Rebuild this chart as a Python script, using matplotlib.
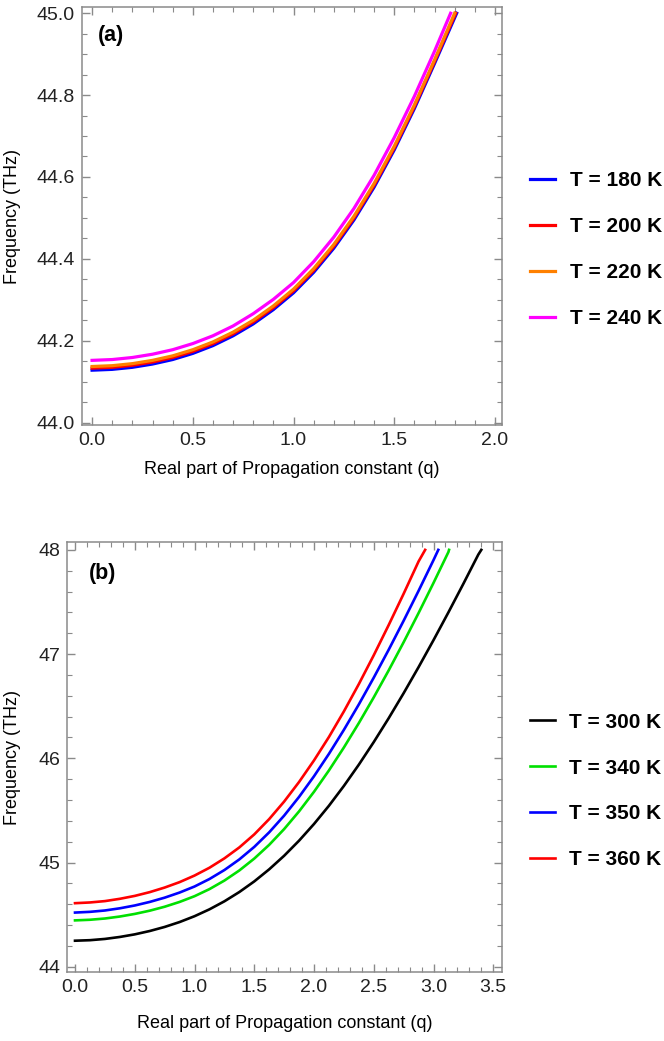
import matplotlib
matplotlib.use('Agg')
import matplotlib.pyplot as plt
from matplotlib.ticker import MultipleLocator, FormatStrFormatter

plt.rcParams['font.family'] = ['Liberation Sans', 'DejaVu Sans']

#==========================================================
# Dispersion data, panel (a): 180 - 240 K
#==========================================================
q_a = [0.0, 0.1, 0.2, 0.3, 0.4, 0.5, 0.6, 0.7, 0.8, 0.9,
       1.0, 1.1, 1.2, 1.3, 1.4, 1.5, 1.6, 1.7]

f_180 = [44.128, 44.130, 44.135, 44.143, 44.154, 44.169, 44.188, 44.212, 44.241,
         44.276, 44.317, 44.367, 44.426, 44.495, 44.575, 44.666, 44.767, 44.877, 45.0]
f_200 = [44.133, 44.135, 44.140, 44.148, 44.159, 44.174, 44.193, 44.217, 44.246,
         44.281, 44.322, 44.372, 44.431, 44.500, 44.580, 44.671, 44.772, 44.882, 45.0]
f_220 = [44.137, 44.139, 44.144, 44.152, 44.163, 44.178, 44.197, 44.221, 44.250,
         44.285, 44.326, 44.376, 44.435, 44.504, 44.584, 44.675, 44.776, 44.886, 45.0]
f_240 = [44.152, 44.154, 44.159, 44.167, 44.178, 44.193, 44.212, 44.236, 44.266,
         44.301, 44.342, 44.393, 44.453, 44.523, 44.604, 44.696, 44.797, 44.907, 45.0]
# q where each curve leaves the top of the frame
q_top_a = [1.81, 1.805, 1.80, 1.78]

#==========================================================
# Dispersion data, panel (b): 300 - 360 K
#==========================================================
q_b = [0.0, 0.125, 0.25, 0.375, 0.5, 0.625, 0.75, 0.875, 1.0, 1.125, 1.25,
       1.375, 1.5, 1.625, 1.75, 1.875, 2.0, 2.125, 2.25, 2.375, 2.5, 2.625,
       2.75, 2.875, 3.0, 3.125, 3.25, 3.375]

f_300 = [44.25, 44.255, 44.267, 44.286, 44.311, 44.343, 44.382, 44.429, 44.485,
         44.551, 44.628, 44.717, 44.819, 44.935, 45.065, 45.21, 45.37, 45.545,
         45.735, 45.939, 46.156, 46.385, 46.625, 46.875, 47.134, 47.401, 47.675,
         47.955, 48.0]
f_340 = [44.445, 44.451, 44.463, 44.482, 44.507, 44.538, 44.576, 44.622, 44.677,
         44.745, 44.827, 44.924, 45.038, 45.17, 45.321, 45.491, 45.679, 45.884,
         46.104, 46.338, 46.585, 46.844, 47.114, 47.394, 47.683, 47.98, 48.0]
f_350 = [44.52, 44.527, 44.54, 44.561, 44.588, 44.622, 44.663, 44.712, 44.77,
         44.842, 44.928, 45.03, 45.15, 45.29, 45.45, 45.63, 45.828, 46.043,
         46.273, 46.517, 46.774, 47.042, 47.32, 47.607, 47.902, 48.0]
f_360 = [44.61, 44.617, 44.63, 44.652, 44.68, 44.716, 44.76, 44.812, 44.875,
         44.95, 45.04, 45.145, 45.27, 45.417, 45.585, 45.773, 45.98, 46.205,
         46.45, 46.712, 46.989, 47.279, 47.579, 47.889, 48.0]
q_top_b = [3.40, 3.13, 3.04, 2.93]

labels_a = ['T = 180 K', 'T = 200 K', 'T = 220 K', 'T = 240 K']
labels_b = ['T = 300 K', 'T = 340 K', 'T = 350 K', 'T = 360 K']
colors_a = ['#0000ff', '#ff0000', '#ff8000', '#ff00ff']
colors_b = ['#000000', '#00e000', '#0000ff', '#ff0000']

#==========================================================
# plot
#==========================================================
fig = plt.figure(figsize=(6.64, 10.41), dpi=100)
ax1 = fig.add_axes([0.1235, 0.5917, 0.6325, 0.4015])
ax2 = fig.add_axes([0.1009, 0.0663, 0.6551, 0.4130])

def style_axis(ax):
    for sp in ax.spines.values():
        sp.set_color('#8a8a8a')
        sp.set_linewidth(1.1)
    ax.tick_params(which='both', direction='in', top=True, right=True,
                   color='#8a8a8a', labelsize=14, labelcolor='#222222', pad=5)
    ax.tick_params(which='major', length=6, width=1.0)
    ax.tick_params(which='minor', length=3.5, width=0.8)

# (a)
fa = [f_180, f_200, f_220, f_240]
for i in range(4):
    q = q_a[:len(fa[i]) - 1] + [q_top_a[i]]
    ax1.plot(q, fa[i], color=colors_a[i], lw=2.3, label=labels_a[i],
             solid_joinstyle='round')
ax1.set_xlim(-0.05, 2.035)
ax1.set_ylim(43.994, 45.015)
ax1.xaxis.set_major_locator(MultipleLocator(0.5))
ax1.xaxis.set_minor_locator(MultipleLocator(0.1))
ax1.yaxis.set_major_locator(MultipleLocator(0.2))
ax1.yaxis.set_minor_locator(MultipleLocator(0.05))
ax1.xaxis.set_major_formatter(FormatStrFormatter('%.1f'))
ax1.yaxis.set_major_formatter(FormatStrFormatter('%.1f'))
style_axis(ax1)
ax1.set_xlabel('Real part of Propagation constant (q)', fontsize=13)
ax1.set_ylabel('Frequency (THz)', fontsize=13)
ax1.xaxis.set_label_coords(0.5, -0.085)
ax1.yaxis.set_label_coords(-0.145, 0.5)
ax1.text(0.038, 0.933, '(a)', transform=ax1.transAxes, fontsize=15.5,
         fontweight='bold', va='center', ha='left')
ax1.legend(loc='center left', bbox_to_anchor=(1.067, 0.42), frameon=False,
           prop={'size': 15, 'weight': 'bold'}, handlelength=1.2,
           handletextpad=0.7, labelspacing=1.29, borderpad=0, borderaxespad=0)

# (b)
fb = [f_300, f_340, f_350, f_360]
for i in range(4):
    q = q_b[:len(fb[i]) - 1] + [q_top_b[i]]
    ax2.plot(q, fb[i], color=colors_b[i], lw=1.9, label=labels_b[i],
             solid_joinstyle='round')
ax2.set_xlim(-0.067, 3.573)
ax2.set_ylim(43.95, 48.075)
ax2.xaxis.set_major_locator(MultipleLocator(0.5))
ax2.xaxis.set_minor_locator(MultipleLocator(0.1))
ax2.yaxis.set_major_locator(MultipleLocator(1))
ax2.yaxis.set_minor_locator(MultipleLocator(0.2))
ax2.xaxis.set_major_formatter(FormatStrFormatter('%.1f'))
ax2.yaxis.set_major_formatter(FormatStrFormatter('%d'))
style_axis(ax2)
ax2.set_xlabel('Real part of Propagation constant (q)', fontsize=13)
ax2.set_ylabel('Frequency (THz)', fontsize=13)
ax2.xaxis.set_label_coords(0.5, -0.1)
ax2.yaxis.set_label_coords(-0.106, 0.5)
ax2.text(0.05, 0.928, '(b)', transform=ax2.transAxes, fontsize=15.5,
         fontweight='bold', va='center', ha='left')
ax2.legend(loc='center left', bbox_to_anchor=(1.064, 0.421), frameon=False,
           prop={'size': 15, 'weight': 'bold'}, handlelength=1.2,
           handletextpad=0.7, labelspacing=1.29, borderpad=0, borderaxespad=0)

plt.savefig('out.png', dpi=100)
plt.close()
